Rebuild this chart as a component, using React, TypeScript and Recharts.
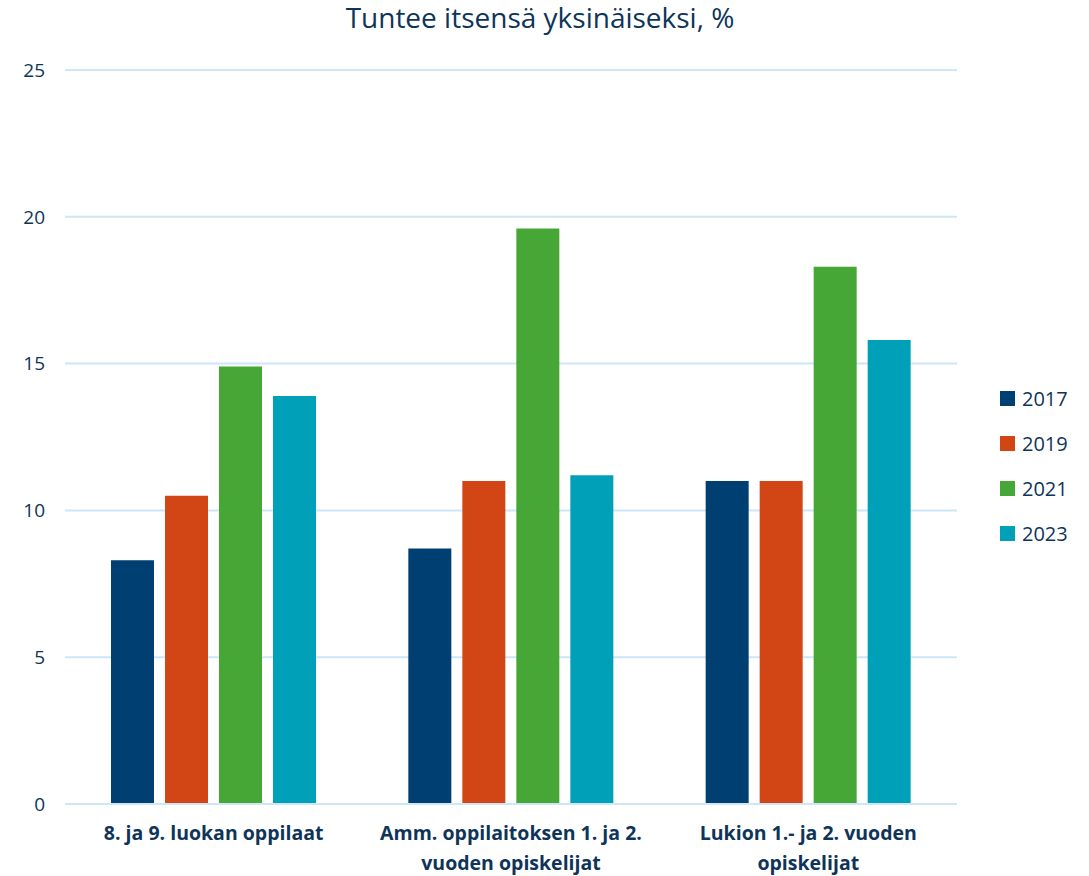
import React from 'react';
import { BarChart, Bar, XAxis, YAxis, CartesianGrid } from 'recharts';

const categories = [
  '8. ja 9. luokan oppilaat',
  'Amm. oppilaitoksen 1. ja 2.\nvuoden opiskelijat',
  'Lukion 1.- ja 2. vuoden\nopiskelijat',
];
const years = ['2017', '2019', '2021', '2023'];
const values2017 = [8.3, 8.7, 11.0];
const values2019 = [10.5, 11.0, 11.0];
const values2021 = [14.9, 19.6, 18.3];
const values2023 = [13.9, 11.2, 15.8];
const yTicks = [0, 5, 10, 15, 20, 25];

const colors = ['#003f72', '#d24615', '#46a736', '#00a0b9'];
const textColor = '#0e3559';
const gridColor = '#cde6f8';
const fontFamily = '"Open Sans", sans-serif';

const series = [values2017, values2019, values2021, values2023];
const data = categories.map((name, i) => {
  const row: Record<string, string | number> = { name };
  years.forEach((y, j) => {
    row[y] = series[j][i];
  });
  return row;
});

const CategoryTick = (props: any) => {
  const { x, y, payload } = props;
  const lines = String(payload.value).split('\n');
  return (
    <text
      x={x}
      y={y}
      textAnchor="middle"
      fill={textColor}
      fontWeight={700}
      fontSize={19.5}
      fontFamily={fontFamily}
    >
      {lines.map((l, i) => (
        <tspan key={i} x={x} dy={i === 0 ? 28 : 30}>
          {l}
        </tspan>
      ))}
    </text>
  );
};

const LegendList = () => (
  <div
    style={{
      position: 'absolute',
      left: 1000,
      top: 376,
      fontFamily,
      color: textColor,
      fontSize: 20,
    }}
  >
    {years.map((y, i) => (
      <div
        key={y}
        style={{ display: 'flex', alignItems: 'center', height: 45 }}
      >
        <span
          style={{
            display: 'inline-block',
            width: 15,
            height: 15,
            background: colors[i],
            marginRight: 7,
          }}
        />
        <span>{y}</span>
      </div>
    ))}
  </div>
);

export default function App() {
  return (
    <div
      style={{
        position: 'absolute',
        left: 0,
        top: 0,
        width: 1089,
        height: 876,
        background: '#fff',
      }}
    >
      <div
        style={{
          position: 'absolute',
          left: 0,
          width: 1080,
          top: -2,
          textAlign: 'center',
          fontFamily,
          fontSize: 28,
          color: textColor,
        }}
      >
        Tuntee itsensä yksinäiseksi, %
      </div>
      <BarChart
        width={1089}
        height={876}
        data={data}
        margin={{ top: 70, right: 132, left: 0, bottom: 0 }}
        barSize={43}
        barGap={11}
      >
        <CartesianGrid
          vertical={false}
          stroke={gridColor}
          strokeWidth={2}
        />
        <XAxis
          dataKey="name"
          axisLine={{ stroke: gridColor, strokeWidth: 2 }}
          tickLine={false}
          tick={<CategoryTick />}
          interval={0}
          height={72}
        />
        <YAxis
          domain={[0, 25]}
          ticks={yTicks}
          width={65}
          axisLine={false}
          tickLine={false}
          tickMargin={14}
          tick={{ fill: textColor, fontSize: 19, fontFamily }}
        />
        {years.map((y, i) => (
          <Bar key={y} dataKey={y} fill={colors[i]} isAnimationActive={false} />
        ))}
      </BarChart>
      <LegendList />
    </div>
  );
}
